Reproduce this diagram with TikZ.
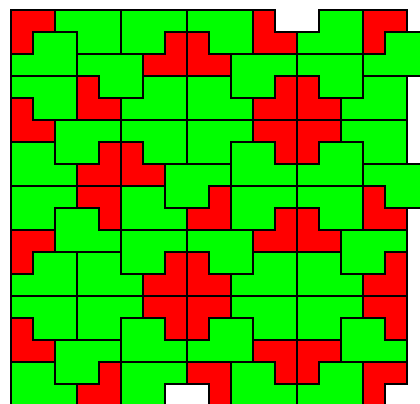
\documentclass[tikz,border=0pt]{standalone}
\usepackage{xcolor}
\definecolor{tilegreen}{RGB}{0,255,0}
\definecolor{tilered}{RGB}{255,0,0}

\begin{document}
\begin{tikzpicture}[x=0.5cm, y=0.5cm, line join=miter,
  ptile/.style={fill=tilegreen, draw=black, line width=1pt},
  ltile/.style={fill=tilered, draw=black, line width=1pt}]
  \useasboundingbox (-0.5,0.4545) rectangle (18.591,-17.864);
  \clip (-0.5,0.4545) rectangle (18.591,-17.864);

  % green pieces (3 wide, 2 high), one corner cell missing
  \foreach \c/\r in {0/1, 13/0, 16/1, 5/3, 15/3, 13/6, 0/11, 10/11, 8/14, 13/16} % top left
    \draw[ptile] (\c+1,-\r) -- ++(2,0) -- ++(0,-2) -- ++(-3,0) -- ++(0,1) -- ++(1,0) -- cycle;
  \foreach \c/\r in {8/3, 0/6, 10/6, 5/8, 2/9, 3/11, 13/11, 5/14, 15/14, 0/16, 10/16} % top right
    \draw[ptile] (\c,-\r) -- ++(2,0) -- ++(0,-1) -- ++(1,0) -- ++(0,-1) -- ++(-3,0) -- cycle;
  \foreach \c/\r in {2/0, 3/2, 8/0, 13/2, 0/3, 5/5, 15/5, 16/7, 13/8, 8/10, 0/13, 10/13} % bottom left
    \draw[ptile] (\c,-\r) -- ++(3,0) -- ++(0,-2) -- ++(-2,0) -- ++(0,1) -- ++(-1,0) -- cycle;
  \foreach \c/\r in {5/0, 10/2, 2/5, 8/5, 7/7, 0/8, 10/8, 5/10, 15/10, 3/13, 13/13, 2/15, 5/16} % bottom right
    \draw[ptile] (\c,-\r) -- ++(3,0) -- ++(0,-1) -- ++(-1,0) -- ++(0,-1) -- ++(-2,0) -- cycle;

  % red pieces (2 by 2), one corner cell missing
  \foreach \c/\r in {6/1, 11/3, 3/6, 8/8, 11/9, 6/11, 16/11, 3/16} % top left
    \draw[ltile] (\c+1,-\r) -- ++(1,0) -- ++(0,-2) -- ++(-2,0) -- ++(0,1) -- ++(1,0) -- cycle;
  \foreach \c/\r in {8/1, 11/0, 3/3, 13/3, 0/4, 5/6, 16/8, 13/9, 8/11, 0/14} % top right
    \draw[ltile] (\c,-\r) -- ++(1,0) -- ++(0,-1) -- ++(1,0) -- ++(0,-1) -- ++(-2,0) -- cycle;
  \foreach \c/\r in {11/5, 3/8, 6/13, 16/13, 11/15, 8/16} % bottom left
    \draw[ltile] (\c,-\r) -- ++(2,0) -- ++(0,-2) -- ++(-1,0) -- ++(0,1) -- ++(-1,0) -- cycle;
  \foreach \c/\r in {0/0, 16/0, 13/5, 0/10, 8/13, 13/15, 16/16} % bottom right
    \draw[ltile] (\c,-\r) -- ++(2,0) -- ++(0,-1) -- ++(-1,0) -- ++(0,-1) -- ++(-1,0) -- cycle;
\end{tikzpicture}
\end{document}
